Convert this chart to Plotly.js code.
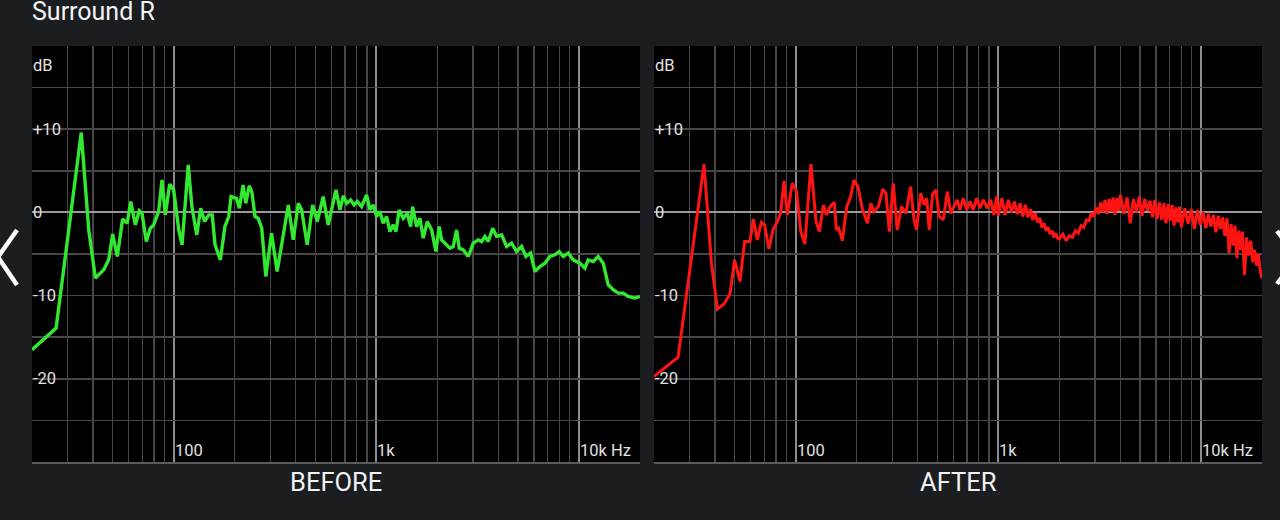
<!DOCTYPE html>
<html>
<head>
<meta charset="utf-8">
<script src="https://cdn.plot.ly/plotly-3.0.1.min.js"></script>
<style>
  html, body { margin: 0; padding: 0; background: #1b1d21; }
  #chart { width: 1280px; height: 520px; }
</style>
</head>
<body>
<div id="chart"></div>
<script>
// ---------- DATA ----------
const chartTitle = "Surround R";
const panelNames = ["BEFORE", "AFTER"];

const freqBefore = [20, 26.3, 35, 38.1, 41.1, 45.2, 47.8, 50, 52.7, 56,
  59, 61.4, 64.7, 67.7, 69.8, 73.3, 76.7, 79.7, 84.3, 87.6,
  90.9, 95.6, 100, 106, 110, 118, 123, 130, 136, 142,
  149, 155, 160, 170, 179, 187, 192, 204, 211, 220,
  227, 236, 243, 252, 261, 272, 285, 304, 324, 345,
  368, 389, 412, 428, 456, 485, 511, 547, 579, 632,
  662, 687, 714, 747, 776, 806, 846, 895, 930, 966,
  1003, 1042, 1082, 1124, 1167, 1212, 1250, 1297, 1358, 1421,
  1476, 1510, 1581, 1641, 1704, 1783, 1875, 1968, 2043, 2100,
  2181, 2308, 2396, 2490, 2565, 2685, 2842, 3008, 3184, 3309,
  3435, 3566, 3749, 3924, 4153, 4395, 4652, 4923, 5211, 5472,
  5772, 6061, 6416, 6790, 7187, 7607, 7988, 8358, 8848, 9366,
  10104, 10696, 11103, 11752, 12437, 13167, 13936, 14754, 15616, 16528,
  17494, 18873, 19977];
const dbBefore = [-16.5, -13.9, 9.6, -2.1, -7.9, -6.9, -5.7, -2.6, -5.3, -0.8,
  -1.3, 1.3, -1.5, 0.2, -0.1, -3.5, -1.9, -1.5, 0.1, 3.9,
  -0.3, 3.4, 2.7, -2.1, -3.9, 5.7, 0.7, -2.7, 0.5, -1.1,
  -0.3, -0.3, -3.9, -5.7, -1.7, -0.5, 1.9, 1.7, 0.5, 3.3,
  1.1, 3.2, 2.5, -0.5, -0.7, -1.9, -7.7, -2.5, -7.1, -3.3,
  0.9, -3.3, 1.1, 0.3, -3.9, 0.9, -1.1, 1.9, -1.5, 2.7,
  0.3, 2.0, 1.1, 1.5, 0.9, 1.3, 0.7, 2.1, 0.3, 0.9,
  -0.5, 0.1, -1.3, -0.5, -2.3, -1.5, -2.3, 0.3, -0.7, -0.1,
  -1.7, 0.7, -1.7, -0.7, -3.1, -1.1, -2.1, -4.7, -1.7, -3.3,
  -3.7, -4.3, -4.1, -2.1, -4.3, -4.5, -5.3, -3.7, -3.3, -3.5,
  -2.9, -3.5, -1.9, -2.9, -2.7, -4.1, -3.7, -4.7, -4.1, -5.3,
  -4.9, -7.1, -6.5, -6.1, -5.3, -5.1, -4.7, -5.3, -4.9, -5.7,
  -6.1, -6.7, -5.7, -5.9, -5.3, -6.1, -8.7, -9.3, -9.7, -9.7,
  -10.1, -10.3, -10.1];

const freqAfter = [20, 26.3, 35.3, 38.4, 41.1, 44.3, 47.4, 50, 53.1, 56,
  59.5, 61.8, 64.7, 67.7, 70.3, 73.8, 77.3, 81.2, 84.3, 87.6,
  90.9, 96.2, 101, 106, 111, 119, 126, 131, 137, 142,
  148, 155, 159, 163, 170, 178.6, 187, 194, 203, 213,
  226, 235, 243, 256, 269, 279, 290, 303, 317, 333,
  350, 369, 383, 395, 414, 430, 443, 456, 474, 492,
  511, 535, 560, 582, 604, 627, 647, 671, 698, 725,
  752, 782, 812, 843, 882, 916, 951, 981,
  1000, 1040, 1080, 1120, 1160, 1200, 1240, 1280, 1320, 1360, 1400, 1440, 1480, 1520, 1560, 1600, 1640, 1680, 1720, 1760, 1800, 1840, 1880, 1920, 1960,
  2000, 2080, 2160, 2240, 2320, 2400, 2480, 2560, 2640, 2720, 2800, 2880, 2960, 3040, 3120, 3200, 3280, 3360, 3440, 3520, 3600, 3680, 3760, 3840, 3920,
  4000, 4160, 4320, 4480, 4640, 4800, 4960, 5120, 5280, 5440, 5600, 5760, 5920, 6080, 6240, 6400, 6560, 6720, 6880, 7040, 7200, 7360, 7520, 7680, 7840,
  8000, 8320, 8640, 8960, 9280, 9600, 9920, 10240, 10560, 10880, 11200, 11520, 11840, 12160, 12480, 12800, 13120, 13440, 13760, 14080, 14400, 14720, 15040, 15360, 15680,
  16000, 16400, 16800, 17200, 17600, 18000, 18400, 18800, 19200, 19600, 20000];
const dbAfter = [-19.7, -17.4, 5.8, -6.1, -11.6, -11.0, -9.8, -5.7, -8.3, -3.5,
  -3.5, -0.8, -3.3, -1.2, -1.5, -4.4, -2.1, -1.1, -0.1, 3.8,
  -0.3, 3.5, 2.5, -2.3, -3.8, 5.8, -1.1, -2.3, 0.9, -0.3,
  0.7, 1.2, -2.1, -1.9, -3.4, 0.7, 1.9, 3.9, 3.1, 0.5,
  -1.3, 1.1, 0.1, 0.7, 2.8, 2.3, -2.3, 3.5, -2.1, 0.7,
  -0.1, 3.1, -0.7, -2.1, 2.3, 0.9, 1.7, -2.1, 2.2, 2.7,
  -0.5, -0.9, 2.5, -0.1, 0.7, 1.5, 0.3, 1.7, 0.3, 1.3,
  0.3, 1.7, 0.5, 1.5, 0.5, 1.5, -0.3, 1.9,
  -0.4, 1.7, -0.3, 1.5, 0.0, 1.3, -0.2, 1.1, -0.5, 0.9, -0.6, 0.4, -0.9, -0.1, -1.2, -0.7, -1.8, -1.3, -2.2, -1.8, -2.6, -2.2, -3.0, -2.5, -3.1,
  -3.2, -2.6, -3.4, -2.8, -3.0, -2.2, -2.5, -1.6, -1.8, -0.9, -1.0, -0.1, -0.5, 0.6, -0.2, 1.2, 0.0, 1.5, -0.2, 1.6, 0.1, 1.8, -0.3, 1.7, 0.2,
  2.1, -0.2, 1.8, -1.3, 1.6, 0.0, 1.9, -0.4, 1.6, 0.2, 1.4, -0.6, 1.5, -0.8, 1.2, -0.9, 1.1, -1.3, 1.0, -1.0, 0.9, -1.6, 0.6, -1.2, 0.7,
  -1.8, 0.5, -1.4, 0.4, -2.0, 0.3, -1.5, 0.1, -1.9, -0.2, -1.7, -0.3, -2.4, -0.4, -2.0, -0.6, -2.8, -0.7, -4.9, -1.4, -4.0, -1.6, -5.5, -2.2, -4.5,
  -2.3, -7.5, -3.0, -5.2, -3.4, -6.0, -4.5, -6.4, -5.0, -7.0, -7.9];

const xMajorVals = [100, 1000, 10000];
const xMajorText = ["100", "1k", "10k Hz"];
const xMinorVals = [30, 40, 50, 60, 70, 80, 90, 200, 300, 400, 500, 600, 700, 800, 900,
  2000, 3000, 4000, 5000, 6000, 7000, 8000, 9000];
const yGridVals = [-25, -20, -15, -10, -5, 0, 5, 10, 15];
const yLabelVals = [17.6, 10, 0, -10, -20];
const yLabelText = ["dB", "+10", "0", "-10", "-20"];

// ---------- LAYOUT ----------
const W = 1280, H = 520;
const panels = [
  { xa: "x", ya: "y", dom: [32 / W, 640 / W] },
  { xa: "x2", ya: "y2", dom: [654 / W, 1262 / W] }
];
const yDom = [(H - 462) / H, (H - 46) / H];
const xRange = [Math.log10(20), Math.log10(20000)];
const gridMinor = "#474747";
const gridMajor = "#8c8c8c";
const labelFont = { family: "Roboto, sans-serif", size: 16.5, color: "#e0e0e0" };

function xAxis(dom, anchor) {
  return {
    domain: dom, anchor: anchor, type: "log", range: xRange,
    tickmode: "array", tickvals: xMajorVals, showticklabels: false, ticks: "",
    showgrid: true, gridcolor: gridMajor, gridwidth: 2,
    minor: { tickmode: "array", tickvals: xMinorVals, showgrid: true, gridcolor: gridMinor, gridwidth: 1.5, ticks: "" },
    showline: true, linecolor: "#5a5a5a", linewidth: 2, zeroline: false, fixedrange: true
  };
}
function yAxis(anchor) {
  return {
    domain: yDom, anchor: anchor, range: [-30, 20],
    tickmode: "array", tickvals: yGridVals, showticklabels: false, ticks: "",
    showgrid: true, gridcolor: gridMinor, gridwidth: 1.5,
    zeroline: true, zerolinecolor: "#9a9a9a", zerolinewidth: 2,
    showline: false, fixedrange: true
  };
}

const traces = [
  { x: freqBefore, y: dbBefore, xaxis: "x", yaxis: "y", type: "scatter", mode: "lines",
    line: { color: "#33e830", width: 3.4 }, hoverinfo: "skip" },
  { x: freqAfter, y: dbAfter, xaxis: "x2", yaxis: "y2", type: "scatter", mode: "lines",
    line: { color: "#ff1414", width: 3 }, hoverinfo: "skip" }
];

const annotations = [];
panels.forEach((p, i) => {
  xMajorVals.forEach((v, k) => {
    annotations.push({ xref: p.xa, yref: p.ya, x: Math.log10(v), y: -30, xanchor: "left", yanchor: "bottom",
      xshift: -1, yshift: 0, text: xMajorText[k], showarrow: false, font: labelFont });
  });
  yLabelVals.forEach((v, k) => {
    annotations.push({ xref: p.xa, yref: p.ya, x: xRange[0], y: v, xanchor: "left", yanchor: "middle",
      xshift: -1, text: yLabelText[k], showarrow: false, font: labelFont });
  });
  annotations.push({ xref: "paper", yref: "paper", x: (p.dom[0] + p.dom[1]) / 2, y: (H - 482) / H,
    xanchor: "center", yanchor: "middle", text: panelNames[i], showarrow: false,
    font: { family: "Roboto, sans-serif", size: 25.5, color: "#f2f2f2" } });
});

const px = v => v / W, py = v => 1 - v / H;
const chevron = { color: "#ffffff", width: 4.5 };
const shapes = [
  { type: "path", xref: "paper", yref: "paper", layer: "above",
    path: `M ${px(17)} ${py(230)} L ${px(-2)} ${py(257)} L ${px(17)} ${py(285)}`, line: chevron },
  { type: "path", xref: "paper", yref: "paper", layer: "above",
    path: `M ${px(1277)} ${py(231)} L ${px(1297)} ${py(257)} L ${px(1277)} ${py(284)}`, line: chevron }
];

const layout = {
  width: W, height: H, margin: { l: 0, r: 0, t: 0, b: 0 },
  paper_bgcolor: "#1b1d21", plot_bgcolor: "#000000",
  showlegend: false,
  title: { text: chartTitle, x: 32 / W, xanchor: "left", xref: "paper", y: 1 - 2 / H, yanchor: "top", yref: "paper",
    font: { family: "Roboto, sans-serif", size: 25, color: "#f4f4f4" } },
  xaxis: xAxis(panels[0].dom, "y"),
  yaxis: yAxis("x"),
  xaxis2: xAxis(panels[1].dom, "y2"),
  yaxis2: yAxis("x2"),
  annotations: annotations,
  shapes: shapes
};

Plotly.newPlot("chart", traces, layout, { staticPlot: true, displayModeBar: false });
</script>
</body>
</html>
